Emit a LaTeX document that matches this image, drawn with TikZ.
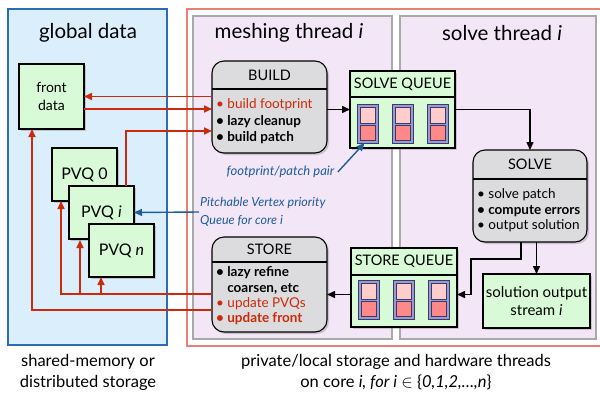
\documentclass[tikz,border=0pt]{standalone}
\usepackage{fontspec}
\setmainfont{Lato}
\usetikzlibrary{arrows.meta,shadows,calc}

\definecolor{globalfill}{HTML}{DAEEFC}
\definecolor{globalline}{HTML}{2B6CB8}
\definecolor{panelfill}{HTML}{F2E6F7}
\definecolor{panelline}{HTML}{A9A9A9}
\definecolor{regionred}{HTML}{E8807A}
\definecolor{datafill}{HTML}{D8FAD6}
\definecolor{procfill}{HTML}{DCDCDE}
\definecolor{slotfill}{HTML}{9B9BD0}
\definecolor{slotline}{HTML}{3A3A6A}
\definecolor{cellhi}{HTML}{FFCCCC}
\definecolor{celllo}{HTML}{FF8888}
\definecolor{linkred}{HTML}{CC2A0A}
\definecolor{noteblue}{HTML}{1F5C99}

\tikzset{
  boxshadow/.style={drop shadow={opacity=0.35, shadow xshift=2pt, shadow yshift=-2pt}},
  databox/.style={draw, fill=datafill, line width=1.1pt, boxshadow, inner sep=0pt,
    outer sep=0pt, align=center, anchor=north west},
  pvq/.style={minimum width=65pt, minimum height=53pt, font=\fontsize{16}{18}\selectfont},
  procbox/.style={draw, fill=procfill, line width=1.1pt, rounded corners=12pt, boxshadow,
    inner sep=0pt, outer sep=0pt, anchor=north west},
  slot/.style={draw=slotline, fill=slotfill, line width=0.8pt, minimum width=21pt,
    minimum height=39pt, inner sep=0pt, outer sep=0pt, anchor=north west},
  cell/.style={draw=slotline, line width=0.6pt},
  heading/.style={font=\fontsize{20.5}{24}\selectfont},
  boxhead/.style={font=\fontsize{14.5}{17}\selectfont},
  items/.style={font=\fontsize{13.5}{16.5}\selectfont, align=left, anchor=west, inner sep=0pt},
  note/.style={text=noteblue, font=\fontsize{13}{18}\selectfont\itshape, align=left},
  caption/.style={font=\fontsize{16.5}{21}\selectfont, align=center},
  redlink/.style={draw=linkred, line width=1.6pt, -{Triangle[length=8pt,width=7pt]}},
  bluelink/.style={draw=noteblue, line width=1.4pt, -{Triangle[length=8pt,width=7pt]}},
  flow/.style={draw=black, line width=1.5pt, -{Triangle[length=8pt,width=7pt]}},
}

\begin{document}
\begin{tikzpicture}[x=1pt, y=-1pt]
  \useasboundingbox (0,0) rectangle (600,394);

  % regions
  \draw[draw=globalline, fill=globalfill, line width=1.1pt] (8,9) rectangle (167,345);
  \draw[draw=regionred, fill=white, line width=1.3pt] (187,9) rectangle (604,346);
  \draw[draw=panelline, fill=panelfill, line width=1.6pt] (193,16) rectangle (392,339);
  \draw[draw=panelline, fill=panelfill, line width=1.6pt] (400,16) rectangle (596,339);

  \node[heading] (globaltitle) at (88,33) {global data};
  \node[heading] (meshtitle) at (289,33) {meshing thread \textit{i}};
  \node[heading] (solvetitle) at (502,33) {solve thread \textit{i}};

  % global data
  \node[databox, minimum width=65pt, minimum height=65pt,
    font=\fontsize{14}{18}\selectfont] (front) at (19,64) {front\\data};
  \node[databox, pvq] (pvq0) at (52,148) {PVQ 0};
  \node[databox, pvq, line width=2.2pt] (pvqi) at (69,186) {PVQ \textit{i}};
  \node[databox, pvq] (pvqn) at (89,224) {PVQ \textit{n}};

  % queues
  \node[databox, minimum width=105pt, minimum height=77pt] (sq) at (350,71) {};
  \draw[line width=1.1pt] (350,97) -- (455,97);
  \node[boxhead] (sqhead) at (402.5,84) {SOLVE QUEUE};
  \node[databox, minimum width=106pt, minimum height=79pt] (stq) at (351,248) {};
  \draw[line width=1.1pt] (351,275) -- (457,275);
  \node[boxhead] (stqhead) at (404,261.5) {STORE QUEUE};

  \foreach \q/\x/\y in {sq1/357/104, sq2/392/104, sq3/427/104,
                        tq1/358/280, tq2/393/280, tq3/428/280} {
    \node[slot] (\q) at (\x,\y) {};
    \draw[cell, fill=cellhi] ([shift={(3,3)}]\q.north west) rectangle ++(15,16);
    \draw[cell, fill=celllo] ([shift={(3,21)}]\q.north west) rectangle ++(15,15);
  }

  % threads
  \node[procbox, minimum width=115pt, minimum height=92pt] (build) at (212,61) {};
  \draw[line width=1.1pt] (212,89) -- (327,89);
  \node[boxhead] (buildhead) at (269.5,75.5) {BUILD};
  \node[items] (builditems) at (216,121.5)
    {\textcolor{linkred}{• build footprint}\\\textbf{• lazy cleanup}\\\textbf{• build patch}};

  \node[procbox, minimum width=115pt, minimum height=95pt] (store) at (212,237) {};
  \draw[line width=1.1pt] (212,262) -- (327,262);
  \node[boxhead] (storehead) at (269.5,249.5) {STORE};
  \node[items, font=\fontsize{13.5}{15.3}\selectfont] (storeitems) at (216,296)
    {\textbf{• lazy refine}\\\textbf{\hphantom{• }coarsen, etc}\\
     \textcolor{linkred}{• update PVQs}\\\textcolor{linkred}{\textbf{• update front}}};

  \node[procbox, minimum width=114pt, minimum height=92pt] (solve) at (473,150) {};
  \draw[line width=1.1pt] (473,179) -- (587,179);
  \node[boxhead] (solvehead) at (530,164.5) {SOLVE};
  \node[items, font=\fontsize{13.5}{15.5}\selectfont] (solveitems) at (477,210.5)
    {• solve patch\\\textbf{• compute errors}\\• output solution};

  \node[databox, minimum width=107pt, minimum height=54pt,
    font=\fontsize{15}{18}\selectfont] (out) at (483,274) {solution output\\stream \textit{i}};

  % black flow
  \draw[flow] (build.east |- sq.west) -- (sq.west);
  \draw[flow] (sq.east) -| (solve.north);
  \draw[flow] ([xshift=-9pt]solve.south) -- ++(0,17) -- ++(-50,0) |- ([yshift=-7pt]stq.east);
  \draw[flow] (out.north |- solve.south) -- (out.north);
  \draw[flow] ([yshift=-7pt]stq.west) -- ([yshift=-10pt]store.east);

  % notes
  \node[note] (pairnote) at (280.5,172) {footprint/patch pair};
  \draw[bluelink] (pairnote.east) -- ([xshift=-3pt]sq1.south);
  \node[note, anchor=west, inner sep=1pt, font=\fontsize{12.5}{18}\selectfont\itshape]
    (pvqnote) at (199,212) {Pitchable Vertex priority\\Queue for core i};
  \draw[bluelink] (pvqnote.west) -- (pvqi.east);

  % red links
  \draw[redlink] (build.west |- front.east) -- (front.east);
  \draw[redlink] ([yshift=-12.5pt]front.east) -- ([yshift=-2pt]build.west);
  \draw[redlink] ([xshift=-8pt]pvqi.north east) |- ([yshift=-24pt]build.west);
  \coordinate (pvqbus) at ([yshift=-9.5pt]store.west);
  \draw[redlink] (pvqbus) -| ([xshift=-23.5pt]pvq0.south);
  \draw[redlink] ($(pvqi.south)+(-21.5,55)$) -- ($(pvqi.south)+(-21.5,1)$);
  \draw[redlink] ($(pvqn.south)+(-20.5,17)$) -- ($(pvqn.south)+(-20.5,0)$);
  \draw[redlink] ([yshift=-25.5pt]store.west) -| ([xshift=-19.5pt]front.south);

  % captions
  \node[caption] (sharedlabel) at (88,372.5) {shared-memory or\\distributed storage};
  \node[caption] (privatelabel) at (396,372.5)
    {private/local storage and hardware threads\\
     on core \textit{i, for i} $\in$ \{\textit{0,1,2,…,n}\}};
\end{tikzpicture}
\end{document}
